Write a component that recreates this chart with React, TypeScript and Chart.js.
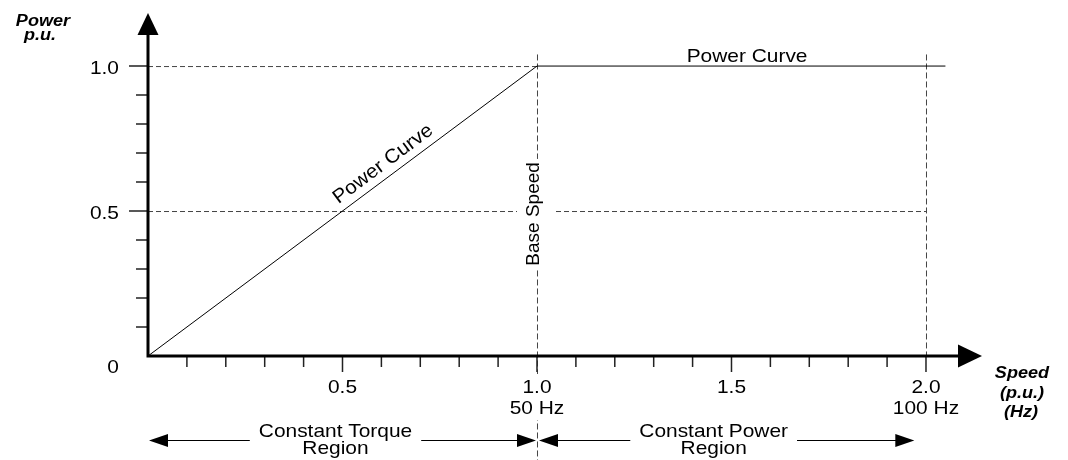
import React, { useEffect, useRef } from "react";
import { Chart, registerables } from "chart.js";

Chart.register(...registerables);

// ---- data ----
const powerSpeed = [0, 1.0, 2.05];
const powerValue = [0, 1.0, 1.0];

const xMajorTicks = [0.5, 1.0, 1.5, 2.0];
const xTickLabels = ["0.5", "1.0", "1.5", "2.0"];
const xTickHz = ["", "50 Hz", "", "100 Hz"];
const xMinorTicks = [0.1, 0.2, 0.3, 0.4, 0.6, 0.7, 0.8, 0.9, 1.1, 1.2, 1.3, 1.4, 1.6, 1.7, 1.8, 1.9];

const yMajorTicks = [0.5, 1.0];
const yTickLabels = ["0.5", "1.0"];
const yMinorTicks = [0.1, 0.2, 0.3, 0.4, 0.6, 0.7, 0.8, 0.9];

const baseSpeed = 1.0;
const maxSpeed = 2.0;
const guideTop = 1.04;

const regionLabels = [
  ["Constant Torque", "Region"],
  ["Constant Power", "Region"],
];
const regionFrom = [0, 1.0];
const regionTo = [1.0, 1.97];

const FONT = '"Liberation Sans", Arial, sans-serif';
const SX = 1.13;

function drawText(
  ctx: CanvasRenderingContext2D,
  text: string,
  x: number,
  y: number,
  font: string,
  align: CanvasTextAlign = "center",
  baseline: CanvasTextBaseline = "alphabetic",
  angle = 0,
  sx = SX
) {
  ctx.save();
  ctx.translate(x, y);
  ctx.rotate(angle);
  ctx.scale(sx, 1);
  ctx.font = font;
  ctx.fillStyle = "#000";
  ctx.textAlign = align;
  ctx.textBaseline = baseline;
  ctx.fillText(text, 0, 0);
  ctx.restore();
}

function dashed(ctx: CanvasRenderingContext2D, x1: number, y1: number, x2: number, y2: number, dash: number[]) {
  ctx.save();
  ctx.strokeStyle = "#444";
  ctx.lineWidth = 1;
  ctx.setLineDash(dash);
  ctx.beginPath();
  ctx.moveTo(x1, y1);
  ctx.lineTo(x2, y2);
  ctx.stroke();
  ctx.restore();
}

function tri(ctx: CanvasRenderingContext2D, pts: number[][]) {
  ctx.beginPath();
  ctx.moveTo(pts[0][0], pts[0][1]);
  for (let i = 1; i < pts.length; i++) ctx.lineTo(pts[i][0], pts[i][1]);
  ctx.closePath();
  ctx.fill();
}

const diagramPlugin = {
  id: "diagram",
  beforeDatasetsDraw(chart: any) {
    const ctx: CanvasRenderingContext2D = chart.ctx;
    const xs = chart.scales.x;
    const ys = chart.scales.y;
    const X = (v: number) => xs.getPixelForValue(v);
    const Y = (v: number) => ys.getPixelForValue(v);
    dashed(ctx, X(0), Y(1.0) + 0.5, X(baseSpeed), Y(1.0) + 0.5, [5, 3]);
    dashed(ctx, X(0), Y(0.5) + 0.5, X(maxSpeed), Y(0.5) + 0.5, [5, 3]);
    dashed(ctx, X(baseSpeed) + 0.5, Y(guideTop), X(baseSpeed) + 0.5, chart.height, [6, 3]);
    dashed(ctx, X(maxSpeed) + 0.5, Y(guideTop), X(maxSpeed) + 0.5, Y(0), [6, 3]);
  },
  afterDatasetsDraw(chart: any) {
    const ctx: CanvasRenderingContext2D = chart.ctx;
    const xs = chart.scales.x;
    const ys = chart.scales.y;
    const X = (v: number) => xs.getPixelForValue(v);
    const Y = (v: number) => ys.getPixelForValue(v);
    const x0 = X(0);
    const y0 = Y(0);
    const xEnd = chart.chartArea.right;
    const yEnd = chart.chartArea.top;

    ctx.save();
    ctx.strokeStyle = "#222";
    ctx.lineWidth = 1.5;
    ctx.beginPath();
    for (const v of yMinorTicks) {
      ctx.moveTo(x0 - 12, Y(v));
      ctx.lineTo(x0, Y(v));
    }
    for (const v of yMajorTicks) {
      ctx.moveTo(x0 - 19, Y(v));
      ctx.lineTo(x0, Y(v));
    }
    for (const v of xMinorTicks) {
      ctx.moveTo(X(v), y0);
      ctx.lineTo(X(v), y0 + 11);
    }
    for (const v of xMajorTicks) {
      ctx.moveTo(X(v), y0);
      ctx.lineTo(X(v), y0 + 16);
    }
    ctx.stroke();

    ctx.strokeStyle = "#000";
    ctx.lineWidth = 3;
    ctx.beginPath();
    ctx.moveTo(x0, y0 + 1.5);
    ctx.lineTo(x0, yEnd + 22);
    ctx.moveTo(x0 - 1.5, y0);
    ctx.lineTo(xEnd - 22, y0);
    ctx.stroke();
    ctx.fillStyle = "#000";
    tri(ctx, [
      [x0, yEnd],
      [x0 - 10.5, yEnd + 22],
      [x0 + 10.5, yEnd + 22],
    ]);
    tri(ctx, [
      [xEnd, y0],
      [xEnd - 24, y0 - 11.5],
      [xEnd - 24, y0 + 11.5],
    ]);
    ctx.restore();

    const f = `18.5px ${FONT}`;
    yMajorTicks.forEach((v, i) => drawText(ctx, yTickLabels[i], 119, Y(v) + 8, f, "right"));
    drawText(ctx, "0", 119, y0 + 17, f, "right");

    xMajorTicks.forEach((v, i) => {
      ctx.save();
      ctx.fillStyle = "#fff";
      ctx.fillRect(X(v) - 28, y0 + 18, 56, xTickHz[i] ? 46 : 22);
      ctx.restore();
      drawText(ctx, xTickLabels[i], X(v), y0 + 37, f);
      if (xTickHz[i]) drawText(ctx, xTickHz[i], X(v), y0 + 57.5, f);
    });

    const fb = `italic bold 16px ${FONT}`;
    drawText(ctx, "Power", 43, 26, fb);
    drawText(ctx, "p.u.", 40, 40, fb);
    drawText(ctx, "Speed", 1022, 378, fb);
    drawText(ctx, "(p.u.)", 1022, 398, fb);
    drawText(ctx, "(Hz)", 1021, 417, fb);

    const ay = 440.5;
    regionLabels.forEach((lines, i) => {
      const l = X(regionFrom[i]) + (i === 0 ? 1 : 2);
      const r = X(regionTo[i]) - (i === 0 ? 1 : 0);
      ctx.save();
      ctx.strokeStyle = "#000";
      ctx.fillStyle = "#000";
      ctx.lineWidth = 1.2;
      ctx.beginPath();
      ctx.moveTo(l + 18, ay);
      ctx.lineTo(r - 18, ay);
      ctx.stroke();
      tri(ctx, [
        [l, ay],
        [l + 19, ay - 6.5],
        [l + 19, ay + 6.5],
      ]);
      tri(ctx, [
        [r, ay],
        [r - 19, ay - 6.5],
        [r - 19, ay + 6.5],
      ]);
      ctx.font = f;
      const w = ctx.measureText(lines[0]).width * SX;
      const cx = (l + r) / 2 - (i === 0 ? 7 : 13);
      ctx.fillStyle = "#fff";
      ctx.fillRect(cx - w / 2 - 9, ay - 18, w + 18, 36);
      ctx.restore();
      drawText(ctx, lines[0], cx, 437, f);
      drawText(ctx, lines[1], cx, 454, f);
    });

    drawText(ctx, "Power Curve", X(1.54), Y(1.0) - 4, f);
    const ang = Math.atan2(Y(1) - Y(0), X(1) - X(0));
    const ax = X(0.625);
    const ayy = Y(0.625);
    const nx = Math.sin(ang);
    const ny = -Math.cos(ang);
    drawText(ctx, "Power Curve", ax + 13.3 * nx, ayy + 13.3 * ny, `19.5px ${FONT}`, "center", "middle", ang, 1.06);

    const bx = X(baseSpeed);
    const by = Y(0.49);
    ctx.save();
    ctx.fillStyle = "#fff";
    ctx.fillRect(bx - 20, by - 55, 38, 110);
    ctx.restore();
    drawText(ctx, "Base Speed", bx + 2, by, `19px ${FONT}`, "center", "alphabetic", -Math.PI / 2, 1);
  },
};

export default function App() {
  const ref = useRef<HTMLCanvasElement>(null);
  useEffect(() => {
    if (!ref.current) return;
    const chart = new Chart(ref.current, {
      type: "scatter",
      data: {
        datasets: [
          {
            label: "Power Curve",
            data: powerSpeed.map((x, i) => ({ x, y: powerValue[i] })),
            showLine: true,
            borderColor: "#000",
            borderWidth: 1,
            pointRadius: 0,
            fill: false,
          },
        ],
      },
      options: {
        animation: false,
        responsive: false,
        devicePixelRatio: 1,
        layout: { padding: { left: 148, right: 86, top: 13, bottom: 104 } },
        plugins: { legend: { display: false }, tooltip: { enabled: false } },
        scales: {
          x: { type: "linear", min: 0, max: 2.144, display: false },
          y: { type: "linear", min: 0, max: 1.183, display: false },
        },
      },
      plugins: [diagramPlugin],
    });
    return () => chart.destroy();
  }, []);
  return (
    <div style={{ position: "absolute", left: 0, top: 0, width: 1068, height: 460, background: "#fff" }}>
      <canvas ref={ref} width={1068} height={460} />
    </div>
  );
}
